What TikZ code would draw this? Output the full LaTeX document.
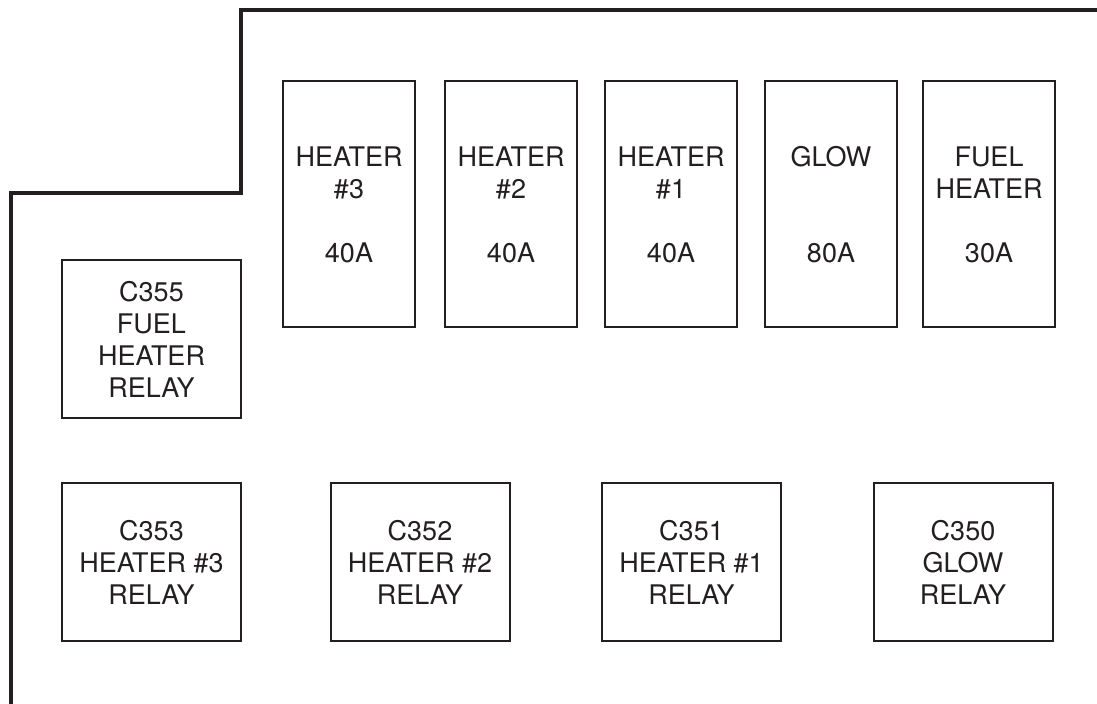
\documentclass[tikz,border=0pt]{standalone}
\usepackage{fontspec}
\setmainfont{TeX Gyre Heros}
\usetikzlibrary{positioning}
\definecolor{Ink}{HTML}{231F20}

\tikzset{
  fuse/.style={draw=Ink,line width=1pt,minimum width=66pt,minimum height=123pt,inner sep=0pt,align=center,font=\fontsize{13.5}{16}\selectfont,text=Ink},
  relay/.style={draw=Ink,line width=1pt,minimum width=89.5pt,minimum height=79pt,inner sep=0pt,align=center,font=\fontsize{13.5}{16}\selectfont,text=Ink}
}

\begin{document}
\begin{tikzpicture}[x=.5pt,y=-.5pt]
        \useasboundingbox(0,0)rectangle(1097,704);
        % housing outline
        \draw[line width=2pt,Ink,line join=miter](1097,10)--(241,10)--(241,193)--(11,193)--(11,704);
        % fuses
        \node[fuse](f3)at(349,204){\strut HEATER\\\#3\\[16pt]40A};
        \node[fuse](f2)at(511,204){\strut HEATER\\\#2\\[16pt]40A};
        \node[fuse](f1)at(671,204){\strut HEATER\\\#1\\[16pt]40A};
        \node[fuse](fglow)at(831,204){\strut GLOW\\[32pt]80A};
        \node[fuse](ffuel)at(989,204){\strut FUEL\\HEATER\\[16pt]30A};
        % relays
        \node[relay](r355)at(151.5,339){C355\\FUEL\\HEATER\\RELAY};
        \node[relay](r353)at(151.5,562.5){C353\\HEATER \#3\\RELAY};
        \node[relay](r352)at(420,562.5){C352\\HEATER \#2\\RELAY};
        \node[relay](r351)at(691.5,562.5){C351\\HEATER \#1\\RELAY};
        \node[relay](r350)at(963,562.5){C350\\GLOW\\RELAY};
      \end{tikzpicture}
\end{document}
